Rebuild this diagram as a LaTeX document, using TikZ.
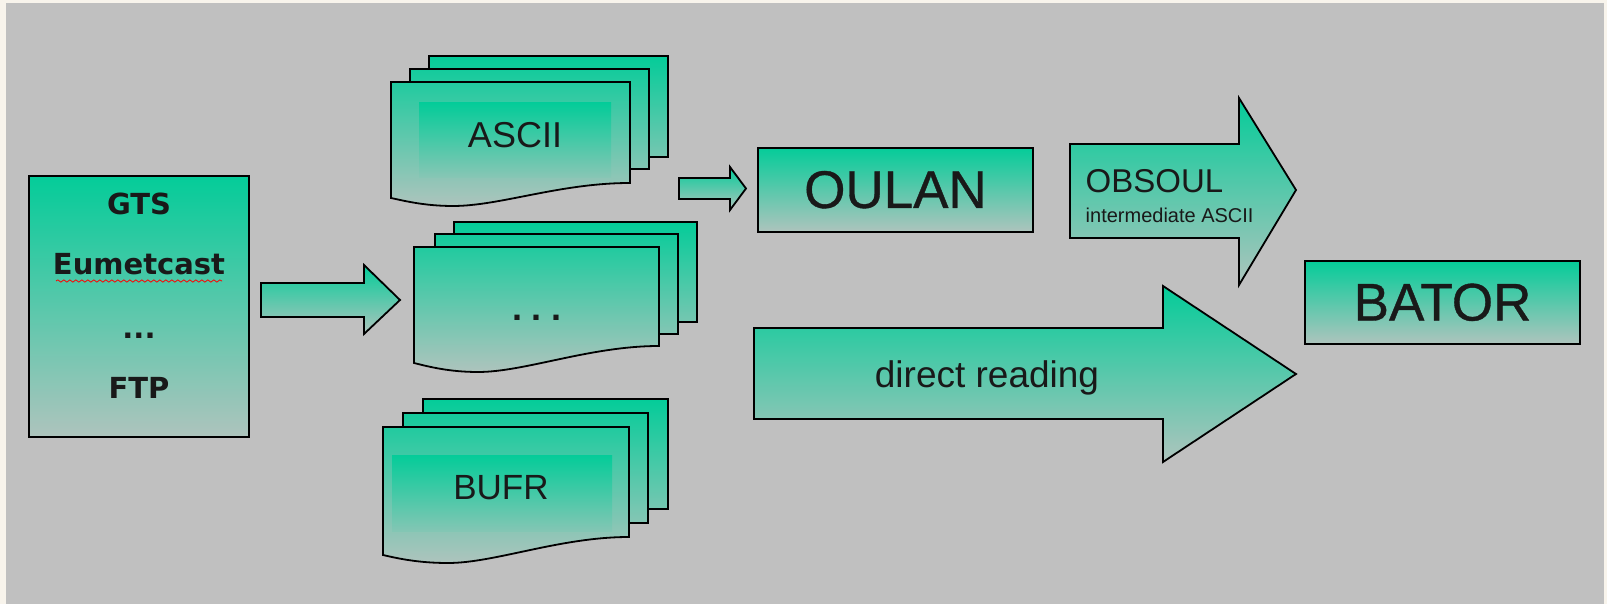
\documentclass[tikz,border=0pt]{standalone}
\usepackage{fontspec}
\setmainfont{Liberation Sans}
\newfontfamily\dejavu{DejaVu Sans}
\newfontfamily\heavyfont{Liberation Sans}[FakeBold=0.7]
\usetikzlibrary{decorations.pathmorphing}
\definecolor{gtop}{RGB}{4,204,153}
\definecolor{gbot}{RGB}{174,196,189}
\definecolor{ink}{RGB}{25,25,25}
\definecolor{bgray}{RGB}{192,192,192}
\definecolor{beige}{RGB}{248,244,236}
\tikzset{
  outl/.style={draw=black, line width=1.8pt, line join=miter},
  grad/.style={top color=gtop, bottom color=gbot},
  box/.style={outl, grad, inner sep=0pt, text=ink},
  srctext/.style={anchor=base, text=ink, inner sep=0pt, font=\dejavu\bfseries\fontsize{29}{32}\selectfont},
  doctext/.style={anchor=base, text=ink, inner sep=0pt, font=\fontsize{36}{40}\selectfont},
  bigtext/.style={font=\heavyfont\fontsize{53}{60}\selectfont},
}
\begin{document}
\begin{tikzpicture}[x=1pt, y=-1pt]
% background
\fill[beige] (0,0) rectangle (1607,604);
\fill[bgray] (6,3) rectangle (1604,604);
\useasboundingbox (0,0) rectangle (1607,604);

% source box
\node[box, minimum width=220, minimum height=261] (src) at (139,306.5) {};
\node[srctext] (gts) at (139,215) {GTS};
\node[srctext] (eum) at (139,275) {Eumetcast};
\node[srctext] (sdots) at (139,338.5) {...};
\node[srctext] (ftp) at (139,398.3) {FTP};
\draw[red, line width=0.8pt, decorate, decoration={snake, segment length=6pt, amplitude=1.1pt}] (56,281) -- (222,281);

% arrow source -> documents
\path[outl, grad] (261,283) -- (364,283) -- (364,265) -- (400,300) -- (364,334) -- (364,317) -- (261,317) -- cycle;

% ASCII stack
\path[outl, top color=gtop, bottom color=gtop!33!gbot] (429,56) rectangle (668,157);
\path[outl, top color=gtop!91!gbot, bottom color=gtop!25!gbot] (410,69) rectangle (649,169);
\path[outl, top color=gtop!83!gbot, bottom color=gbot] (391,82) -- (630,82) -- (630,183)
  .. controls (560,183) and (500,206) .. (453,206)
  .. controls (425,206) and (405,201) .. (391,198) -- cycle;
\fill[top color=gtop, bottom color=gtop!22!gbot] (419,103) rectangle (611,178);
\node[doctext] (ascii) at (515,148) {ASCII};

% ... stack
\path[outl, top color=gtop, bottom color=gtop!33!gbot] (454,222) rectangle (697,322);
\path[outl, top color=gtop!92!gbot, bottom color=gtop!25!gbot] (435,234) rectangle (678,334);
\path[outl, top color=gtop!83!gbot, bottom color=gbot] (414,247) -- (659,247) -- (659,346)
  .. controls (590,346) and (525,372) .. (478,372)
  .. controls (450,372) and (430,367) .. (414,363) -- cycle;
\node[doctext, font=\bfseries\fontsize{36}{40}\selectfont] (mdots) at (537,320) {.\ .\ .};

% BUFR stack
\path[outl, top color=gtop, bottom color=gtop!33!gbot] (423,399) rectangle (668,509);
\path[outl, top color=gtop!91!gbot, bottom color=gtop!24!gbot] (403,413) rectangle (648,523);
\path[outl, top color=gtop!83!gbot, bottom color=gbot] (383,427) -- (629,427) -- (629,537)
  .. controls (560,537) and (495,563) .. (448,563)
  .. controls (420,563) and (400,559) .. (383,555) -- cycle;
\fill[top color=gtop, bottom color=gtop!25!gbot] (392,455) rectangle (612,531);
\node[doctext, font=\fontsize{35}{40}\selectfont] (bufr) at (501,499) {BUFR};

% small arrow -> OULAN
\path[outl, grad] (679,178) -- (730,178) -- (730,167) -- (746,188.5) -- (730,210) -- (730,199) -- (679,199) -- cycle;

% OULAN
\node[box, bigtext, minimum width=275, minimum height=84] (oulan) at (895.5,189.7) {OULAN};

% OBSOUL arrow
\path[outl, grad] (1070,144) -- (1239,144) -- (1239,98) -- (1296,190) -- (1239,285) -- (1239,238) -- (1070,238) -- cycle;
\node[anchor=base west, inner sep=0pt, text=ink, font=\fontsize{33}{36}\selectfont] (obsoul) at (1085.5,192.3) {OBSOUL};
\node[anchor=base west, inner sep=0pt, text=ink, font=\fontsize{20}{24}\selectfont] (inter) at (1085.5,222.3) {intermediate ASCII};

% direct reading arrow
\path[outl, grad] (754,328) -- (1163,328) -- (1163,286) -- (1296,374) -- (1163,462) -- (1163,419) -- (754,419) -- cycle;
\node[anchor=base, inner sep=0pt, text=ink, font=\fontsize{37}{40}\selectfont] (direct) at (987,387.7) {direct reading};

% BATOR
\node[box, bigtext, minimum width=275, minimum height=83] (bator) at (1442.5,302.3) {BATOR};
\end{tikzpicture}
\end{document}
